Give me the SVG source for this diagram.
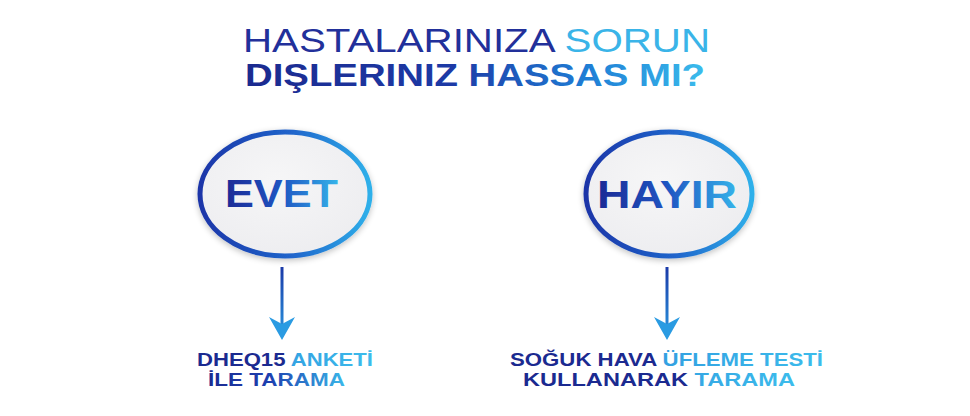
<svg xmlns="http://www.w3.org/2000/svg" width="970" height="416" viewBox="0 0 970 416">
<defs>
<linearGradient id="gTitle" x1="0" y1="0" x2="1" y2="0">
<stop offset="0" stop-color="#1b2a8f"/><stop offset="0.45" stop-color="#1d3aa6"/><stop offset="0.75" stop-color="#1f7fd6"/><stop offset="1" stop-color="#3bbcec"/>
</linearGradient>
<linearGradient id="gNode" x1="0" y1="0" x2="1" y2="0">
<stop offset="0" stop-color="#1b2a95"/><stop offset="0.5" stop-color="#1f55c2"/><stop offset="1" stop-color="#35b3ea"/>
</linearGradient>
<linearGradient id="gRing" x1="0" y1="0" x2="1" y2="0">
<stop offset="0" stop-color="#1b35a8"/><stop offset="0.55" stop-color="#2066cc"/><stop offset="1" stop-color="#2fb0ea"/>
</linearGradient>
<radialGradient id="gFill" cx="0.45" cy="0.4" r="0.7">
<stop offset="0" stop-color="#f6f6f7"/><stop offset="1" stop-color="#ececef"/>
</radialGradient>
<linearGradient id="gArrow" gradientUnits="userSpaceOnUse" x1="0" y1="267" x2="0" y2="340">
<stop offset="0" stop-color="#1b3aa8"/><stop offset="1" stop-color="#2a9be2"/>
</linearGradient>
<linearGradient id="gBottom" x1="0" y1="0" x2="1" y2="0">
<stop offset="0" stop-color="#1b2a90"/><stop offset="0.45" stop-color="#1d40b0"/><stop offset="1" stop-color="#3ab8ea"/>
</linearGradient>
<linearGradient id="gLight" x1="0" y1="0" x2="1" y2="0">
<stop offset="0" stop-color="#2a86d8"/><stop offset="1" stop-color="#3cbcec"/>
</linearGradient>
<filter id="sh" x="-20%" y="-20%" width="140%" height="140%">
<feGaussianBlur in="SourceAlpha" stdDeviation="3"/><feOffset dy="2"/>
<feComponentTransfer><feFuncA type="linear" slope="0.25"/></feComponentTransfer>
<feMerge><feMergeNode/><feMergeNode in="SourceGraphic"/></feMerge>
</filter>
</defs>
<style>
.t1{font-family:"Liberation Sans",Arial,sans-serif;font-size:33px;font-weight:400;}
.t2{font-family:"Liberation Sans",Arial,sans-serif;font-size:32px;font-weight:700;}
.node{font-family:"Liberation Sans",Arial,sans-serif;font-size:38px;font-weight:700;fill:url(#gNode);}
.ring{fill:url(#gFill);stroke:url(#gRing);stroke-width:5;}
.lbl{font-family:"Liberation Sans",Arial,sans-serif;font-size:18px;font-weight:700;}
.arr{stroke:url(#gArrow);stroke-width:3;fill:none;}
</style>
<rect width="970" height="416" fill="#ffffff"/>
<g id="title">
<text class="t1" x="243" y="52" textLength="467" lengthAdjust="spacingAndGlyphs"><tspan fill="#22309a">HASTALARINIZA </tspan><tspan fill="#3ab4e8">SORUN</tspan></text>
<text class="t2" x="245" y="86" textLength="460" lengthAdjust="spacingAndGlyphs" fill="url(#gTitle)">DIŞLERINIZ HASSAS MI?</text>
</g>
<g id="node-evet">
<ellipse class="ring" cx="285" cy="194" rx="85" ry="62" filter="url(#sh)"/>
<text class="node" x="225" y="207" textLength="113" lengthAdjust="spacingAndGlyphs">EVET</text>
</g>
<g id="node-hayir">
<ellipse class="ring" cx="669" cy="194" rx="83" ry="62" filter="url(#sh)"/>
<text class="node" x="597" y="208" textLength="140" lengthAdjust="spacingAndGlyphs">HAYIR</text>
</g>
<g id="connectors">
<line class="arr" x1="282" y1="267" x2="282" y2="325"/>
<path d="M269,317 L282,324 L295,317 L282,340 Z" fill="#2a9be2"/>
<line class="arr" x1="667" y1="267" x2="667" y2="325"/>
<path d="M654,317 L667,324 L680,317 L667,340 Z" fill="#2a9be2"/>
</g>
<g id="label-evet">
<text class="lbl" x="197" y="366" textLength="176" lengthAdjust="spacingAndGlyphs"><tspan fill="#1b2a90">DHEQ15 </tspan><tspan fill="url(#gLight)">ANKETİ</tspan></text>
<text class="lbl" x="208" y="386" textLength="137" lengthAdjust="spacingAndGlyphs" fill="url(#gBottom)">İLE TARAMA</text>
</g>
<g id="label-hayir">
<text class="lbl" x="510" y="366" textLength="313" lengthAdjust="spacingAndGlyphs"><tspan fill="#1b2a90">SOĞUK HAVA </tspan><tspan fill="url(#gLight)">ÜFLEME TESTİ</tspan></text>
<text class="lbl" x="523" y="386" textLength="272" lengthAdjust="spacingAndGlyphs"><tspan fill="#1b2a90">KULLANARAK </tspan><tspan fill="url(#gLight)">TARAMA</tspan></text>
</g>
</svg>
